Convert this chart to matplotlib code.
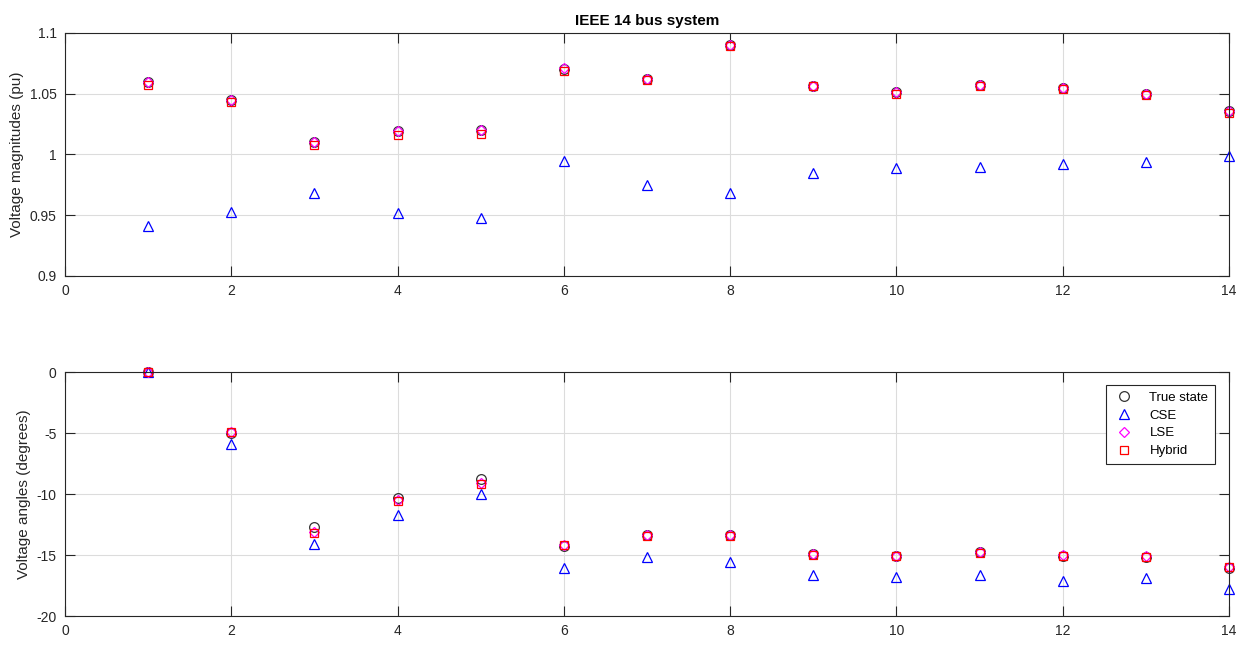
import numpy as np
import matplotlib
matplotlib.use("Agg")
import matplotlib.pyplot as plt

plt.rcParams["font.family"] = ["Liberation Sans", "DejaVu Sans"]
plt.rcParams["axes.unicode_minus"] = False

# bus numbers
bus = np.arange(1, 15)

# voltage magnitudes (pu)
vm_true = [1.060, 1.045, 1.010, 1.019, 1.020, 1.070, 1.062, 1.090, 1.056, 1.051, 1.057, 1.055, 1.050, 1.036]
vm_cse = [0.941, 0.953, 0.968, 0.952, 0.948, 0.995, 0.975, 0.968, 0.985, 0.989, 0.990, 0.992, 0.994, 0.999]
vm_lse = [1.060, 1.045, 1.010, 1.019, 1.020, 1.071, 1.062, 1.090, 1.056, 1.051, 1.057, 1.055, 1.050, 1.036]
vm_hyb = [1.057, 1.043, 1.008, 1.016, 1.017, 1.069, 1.061, 1.089, 1.056, 1.050, 1.056, 1.054, 1.049, 1.034]

# voltage angles (degrees)
va_true = [0.0, -4.98, -12.72, -10.32, -8.78, -14.22, -13.37, -13.36, -14.94, -15.10, -14.79, -15.07, -15.16, -16.04]
va_cse = [0.0, -5.9, -14.1, -11.7, -10.0, -16.05, -15.2, -15.6, -16.6, -16.8, -16.6, -17.1, -16.9, -17.8]
va_lse = [0.0, -4.95, -13.1, -10.5, -9.1, -14.2, -13.35, -13.35, -14.9, -15.05, -14.75, -15.0, -15.1, -15.95]
va_hyb = [0.0, -4.95, -13.2, -10.6, -9.2, -14.2, -13.4, -13.4, -15.0, -15.1, -14.8, -15.05, -15.15, -16.0]

fig = plt.figure(figsize=(12.55, 6.46), dpi=100)
ax1 = fig.add_axes([0.0518, 0.5728, 0.9275, 0.3762])
ax2 = fig.add_axes([0.0518, 0.0464, 0.9275, 0.3777])

edge = "#262626"


def draw(ax, t, c, l, h):
    ax.plot(bus, t, "o", mec="#333333", label="True state", ls="none", ms=7, mew=0.9, mfc="none")
    ax.plot(bus, c, "^", mec="#0000ff", label="CSE", ls="none", ms=7.5, mew=0.9, mfc="none")
    ax.plot(bus, l, "D", mec="#ff00ff", label="LSE", ls="none", ms=5.5, mew=0.9, mfc="none")
    ax.plot(bus, h, "s", mec="#ff0000", label="Hybrid", ls="none", ms=5.5, mew=0.9, mfc="none")
    ax.set_xlim(0, 14)
    ax.set_xticks(range(0, 15, 2))
    ax.grid(True, color="#dcdcdc", lw=0.8)
    ax.set_axisbelow(True)
    ax.tick_params(direction="in", length=7, width=0.8, top=True, right=True,
                   colors=edge, labelsize=10, labelcolor=edge, pad=6)
    for s in ax.spines.values():
        s.set_color(edge)
        s.set_linewidth(0.8)
    for p in ax.lines:
        p.set_clip_on(False)


draw(ax1, vm_true, vm_cse, vm_lse, vm_hyb)
ax1.set_ylim(0.9, 1.1)
ax1.set_yticks([0.9, 0.95, 1.0, 1.05, 1.1])
ax1.set_yticklabels(["0.9", "0.95", "1", "1.05", "1.1"])
ax1.set_ylabel("Voltage magnitudes (pu)", fontsize=11, color=edge)
ax1.set_title("IEEE 14 bus system", fontsize=11, fontweight="bold", color="#000000", pad=6)

draw(ax2, va_true, va_cse, va_lse, va_hyb)
ax2.set_ylim(-20, 0)
ax2.set_yticks([-20, -15, -10, -5, 0])
ax2.set_ylabel("Voltage angles (degrees)", fontsize=11, color=edge)
leg = ax2.legend(loc="upper right", bbox_to_anchor=(0.988, 0.947), borderaxespad=0,
                 fontsize=9.5, fancybox=False, framealpha=1, edgecolor=edge, borderpad=0.5,
                 labelspacing=0.42, handletextpad=1.0, handlelength=1.8)
leg.get_frame().set_linewidth(0.8)

fig.savefig("out.png", dpi=100)
